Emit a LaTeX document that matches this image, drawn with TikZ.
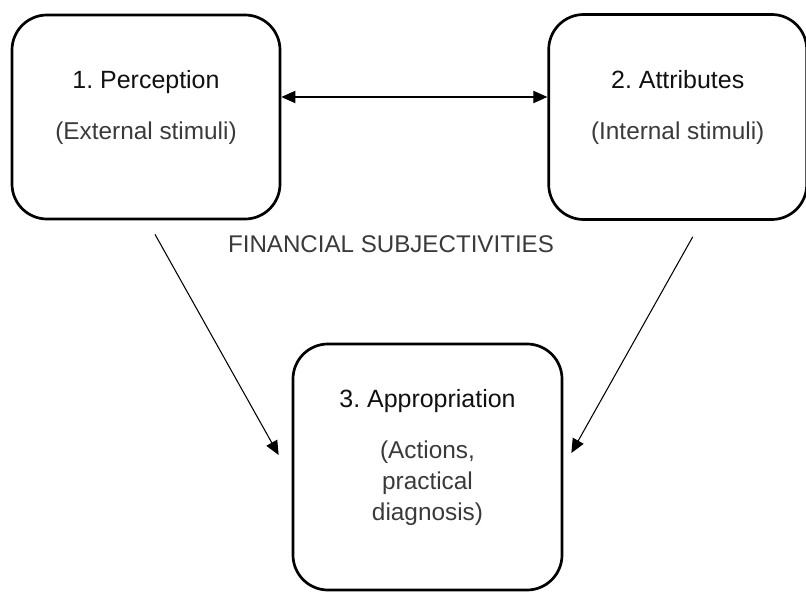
\documentclass[tikz,border=0pt]{standalone}
\usepackage{fontspec}
\setmainfont{Liberation Sans}
\usetikzlibrary{positioning, arrows.meta, calc}
\definecolor{InkA}{HTML}{111111}
\definecolor{InkB}{HTML}{3A3A3A}
\frenchspacing
\tikzset{
  box/.style={draw=black, line width=2.3pt, rounded corners=1.05cm,
              align=center, inner sep=0pt, text=InkB,
              font=\fontsize{20.8pt}{26.4pt}\selectfont},
  arr/.style={-{Triangle[length=12pt, width=10.5pt]}, line width=0.9pt},
  dblarr/.style={{Triangle[length=12pt, width=10.5pt]}-{Triangle[length=12pt, width=10.5pt]},
                 line width=0.9pt},
  heading/.style={font=\fontsize{20.6pt}{24pt}\selectfont, text=InkB}
}
\newcommand{\boxtitle}[1]{{\fontsize{21.3pt}{26.4pt}\selectfont\color{InkA}#1}}
\newcommand{\lowpad}{\rule[-20pt]{0pt}{0pt}}

\begin{document}
\begin{tikzpicture}[x=0.03cm, y=-0.03cm]
  \useasboundingbox (0,0) rectangle (806,592);

  % ----- Top row: perception and attributes -----
  \node[box, minimum width=8.04cm, minimum height=6.12cm] (perc) at (146,117)
    {\boxtitle{1. Perception}\\[17pt](External stimuli)\lowpad};

  \node[box, minimum width=7.74cm, minimum height=6.15cm,
        right=7.98cm of perc] (attr)
    {\boxtitle{2. Attributes}\\[17pt](Internal stimuli)\lowpad};

  % ----- Bottom: appropriation -----
  \node[box, minimum width=8.07cm, minimum height=7.38cm] (appr) at (427.5,467)
    {\boxtitle{3. Appropriation}\\[17pt](Actions,\\practical\\diagnosis)\lowpad};

  % ----- Central label -----
  \node[heading] (fin) at (391,244) {FINANCIAL SUBJECTIVITIES};

  % ----- Connectors -----
  \draw[dblarr] ($(perc.east)+(0,-20)$) -- ($(attr.west)+(0,-20)$);
  \draw[arr] ($(perc.south)+(9,14)$) -- ($(appr.west)+(-13,-12)$);
  \draw[arr] ($(attr.south)+(15,16)$) -- ($(appr.east)+(8,-14)$);

\end{tikzpicture}
\end{document}
